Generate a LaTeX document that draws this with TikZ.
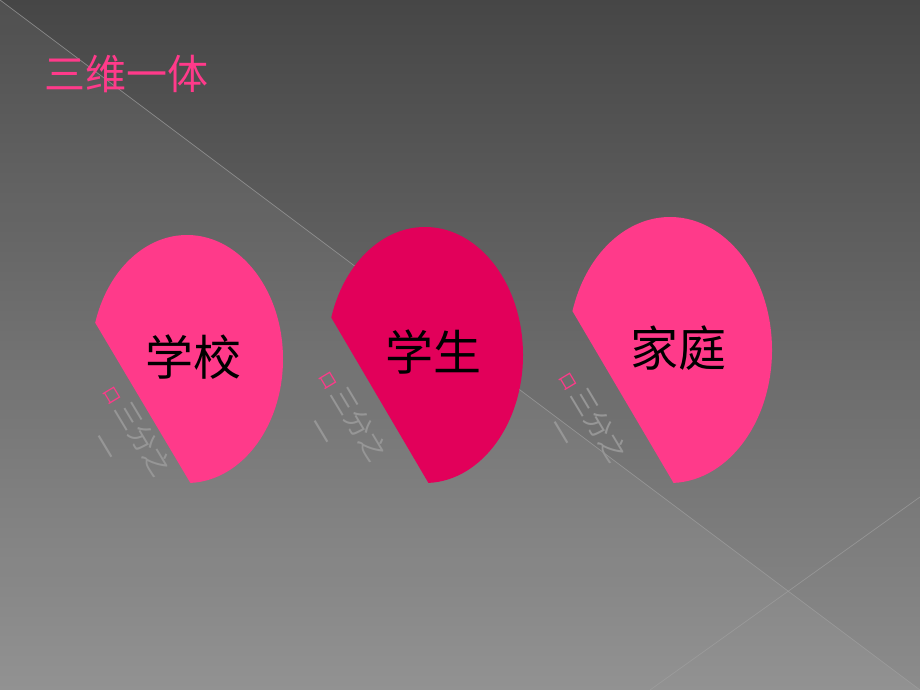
\documentclass[tikz,border=0pt]{standalone}
\usepackage{fontspec}
\usetikzlibrary{calc}
\newfontfamily\cjk{Noto Sans CJK SC}
\definecolor{bgtop}{RGB}{70,70,70}
\definecolor{bgbot}{RGB}{140,140,140}
\definecolor{pinkc}{RGB}{255,58,138}
\definecolor{crimc}{RGB}{226,0,90}
\definecolor{softgray}{RGB}{150,150,150}
\definecolor{linec}{RGB}{160,160,160}
\tikzset{
  petal/.style={draw=none},
  bigtxt/.style={font=\cjk\fontsize{48}{52}\selectfont, text=black, inner sep=0pt},
  thirdtxt/.style={font=\cjk\fontsize{27}{36}\selectfont, text=softgray, rotate=-59, align=center, inner sep=0pt},
  titletxt/.style={font=\cjk\fontsize{41}{44}\selectfont, text=pinkc, inner sep=0pt},
  thinline/.style={draw=linec, line width=0.7pt, opacity=0.7}
}
\newcommand{\pinkmark}{\makebox[25pt][c]{\color{pinkc}\fontsize{17}{18}\selectfont 口}}
\begin{document}
\begin{tikzpicture}[x=1pt,y=1pt]
\useasboundingbox (0,0) rectangle (920,690);
\shade[top color=bgtop, bottom color=bgbot] (0,0) rectangle (920,690);
\fill[white, opacity=0.055] (0,690) -- (920,0) -- (0,0) -- cycle;
\coordinate (d1) at (0,690);
\coordinate (d2) at (920,0);
\coordinate (e1) at (650,0);
\coordinate (e2) at (920,193);
\draw[thinline] (d1) -- (d2);
\draw[thinline] (e1) -- (e2);
% title
\node[titletxt] (title) at (126,616) {三维一体};
% petals
\fill[pinkc, petal] ($(187,331)+(-88:96 and 124)$) arc[start angle=-88, end angle=163, x radius=96, y radius=124] -- cycle;
\fill[crimc, petal] ($(425,335)+(-88:98 and 128)$) arc[start angle=-88, end angle=163, x radius=98, y radius=128] -- cycle;
\fill[pinkc, petal] ($(670,340)+(-88:102 and 133)$) arc[start angle=-88, end angle=163, x radius=102, y radius=133] -- cycle;
% labels
\node[bigtxt] (school) at (193,333) {学校};
\node[bigtxt] (student) at (433,338) {学生};
\node[bigtxt] (family) at (678,342) {家庭};
% rotated texts
\node[thirdtxt] (t1) at (122,253) {\pinkmark 三分之\\一};
\node[thirdtxt] (t2) at (338,268) {\pinkmark 三分之\\一};
\node[thirdtxt] (t3) at (578,267) {\pinkmark 三分之\\一};
\end{tikzpicture}
\end{document}
